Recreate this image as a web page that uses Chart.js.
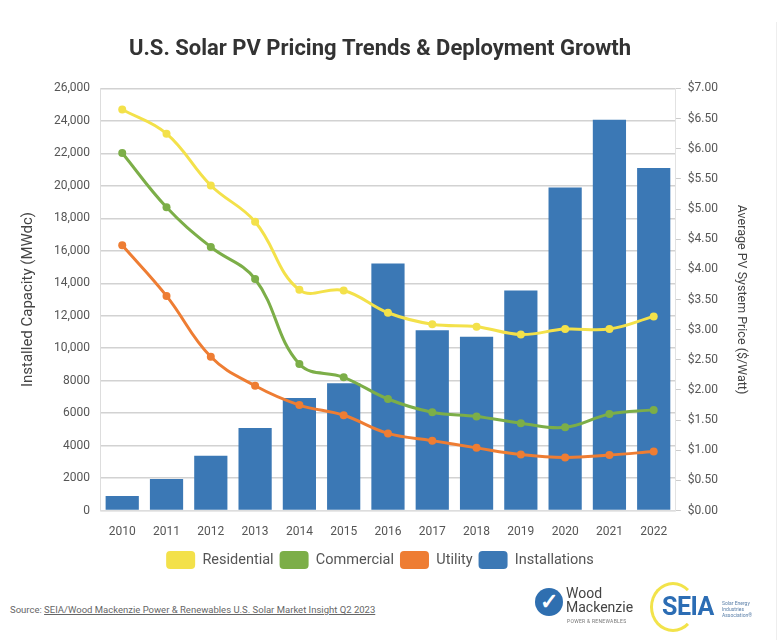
<!DOCTYPE html>
<html>
<head>
<meta charset="utf-8">
<script src="https://cdn.jsdelivr.net/npm/chart.js@4.4.0/dist/chart.umd.min.js"></script>
<style>
  html, body { margin:0; padding:0; background:#fff; }
  #wrap { position:relative; width:782px; height:640px; background:#fff; overflow:hidden; font-family:Roboto, "Liberation Sans", sans-serif; }
  #cbox { position:absolute; left:0; top:0; width:760px; height:585px; }
  #source { position:absolute; left:10px; top:604px; font-size:9.5px; color:#666; white-space:nowrap; }
  #source u { text-decoration:underline; }
  #edge { position:absolute; left:776px; top:22px; width:1px; height:618px; background:#eee; }
  .wm-icon { position:absolute; left:535px; top:588px; width:28px; height:28px; border-radius:50%; background:#2f6fb0; color:#fff; font-size:22px; line-height:28px; text-align:center; font-weight:bold; }
  .wm-t1 { position:absolute; left:566px; top:586px; font-size:14px; color:#444; line-height:14px; }
  .wm-t2 { position:absolute; left:566px; top:600px; font-size:14px; color:#444; line-height:14px; }
  .wm-t3 { position:absolute; left:567px; top:618px; font-size:5px; color:#777; letter-spacing:0.3px; }
  .seia-ring { position:absolute; left:650px; top:582px; width:46px; height:50px; border-radius:50%; border:3px solid #f2e34a; border-right-color:transparent; box-sizing:border-box; }
  .seia-t { position:absolute; left:662px; top:594px; font-size:25px; font-weight:bold; color:#2c6db4; line-height:26px; letter-spacing:-0.5px; }
  .seia-s { position:absolute; left:722px; top:600px; font-size:5px; color:#5a7fa8; line-height:6px; }
</style>
</head>
<body>
<div id="wrap">
  <div id="cbox"><canvas id="c"></canvas></div>
  <div id="edge"></div>
  <div id="source">Source: <u>SEIA/Wood Mackenzie Power &amp; Renewables U.S. Solar Market Insight Q2 2023</u></div>
  <div class="wm-icon">✓</div>
  <div class="wm-t1">Wood</div>
  <div class="wm-t2">Mackenzie</div>
  <div class="wm-t3">POWER &amp; RENEWABLES</div>
  <div class="seia-ring"></div>
  <div class="seia-t">SEIA</div>
  <div class="seia-s">Solar Energy<br>Industries<br>Association®</div>
</div>
<script>
const years = ["2010","2011","2012","2013","2014","2015","2016","2017","2018","2019","2020","2021","2022"];
const installations = [900, 1950, 3380, 5080, 6930, 7850, 15220, 11100, 10700, 13560, 19900, 24070, 21100];
const residential = [6.65, 6.25, 5.39, 4.79, 3.66, 3.65, 3.28, 3.09, 3.05, 2.92, 3.01, 3.01, 3.22];
const commercial  = [5.93, 5.03, 4.37, 3.84, 2.43, 2.21, 1.85, 1.63, 1.56, 1.45, 1.38, 1.60, 1.67];
const utility     = [4.40, 3.56, 2.55, 2.07, 1.75, 1.58, 1.28, 1.16, 1.04, 0.93, 0.88, 0.92, 0.98];
const capacityTicks = [0,2000,4000,6000,8000,10000,12000,14000,16000,18000,20000,22000,24000,26000];

const FONT = 'Roboto, "Liberation Sans", sans-serif';
const YEL = '#f3e14a', GRN = '#7cae48', ORG = '#ee7d33', BLU = '#3b78b5';

function lineDs(label, data, color) {
  return {
    type: 'line', label, data, yAxisID: 'y1',
    borderColor: color, backgroundColor: color,
    borderWidth: 3, tension: 0.4,
    pointRadius: 4, pointBackgroundColor: color, pointBorderColor: color, pointBorderWidth: 0
  };
}

new Chart(document.getElementById('c'), {
  data: {
    labels: years,
    datasets: [
      lineDs('Residential', residential, YEL),
      lineDs('Commercial', commercial, GRN),
      lineDs('Utility', utility, ORG),
      { type: 'bar', label: 'Installations', data: installations, yAxisID: 'y',
        backgroundColor: BLU, borderWidth: 0, categoryPercentage: 1.0, barPercentage: 0.75 }
    ]
  },
  options: {
    responsive: true, maintainAspectRatio: false, animation: false,
    layout: { padding: { left: 2, right: 2, top: 0, bottom: 6 } },
    plugins: {
      title: { display: true, text: 'U.S. Solar PV Pricing Trends & Deployment Growth',
        color: '#333', font: { family: FONT, size: 22, weight: 'bold' },
        padding: { top: 36, bottom: 26 } },
      legend: { position: 'bottom',
        labels: { color: '#555', font: { family: FONT, size: 14.5 }, boxWidth: 29, boxHeight: 18,
          padding: 6, useBorderRadius: true, borderRadius: 4,
          generateLabels: (chart) => Chart.defaults.plugins.legend.labels.generateLabels(chart).map(l => {
            l.lineWidth = 0; l.strokeStyle = 'transparent'; l.fillStyle = chart.data.datasets[l.datasetIndex].backgroundColor; return l; }) } },
      tooltip: { enabled: false }
    },
    scales: {
      x: {
        grid: { display: false },
        border: { color: '#ddd' },
        ticks: { color: '#555', font: { family: FONT, size: 12 }, padding: 6 }
      },
      y: {
        position: 'left', min: 0, max: 26000,
        afterBuildTicks: (s) => { s.ticks = capacityTicks.map(v => ({ value: v })); },
        grid: { color: '#d2d2d2', lineWidth: 1.5, drawTicks: false },
        border: { color: '#ddd', display: true },
        ticks: { color: '#555', font: { family: FONT, size: 12 }, padding: 10,
          callback: (v) => v >= 10000 ? v.toLocaleString('en-US') : String(v) },
        title: { display: true, text: 'Installed Capacity (MWdc)', color: '#444',
          font: { family: FONT, size: 15 }, padding: { top: 17, bottom: 7 } }
      },
      y1: {
        position: 'right', min: 0, max: 7,
        grid: { drawOnChartArea: false, color: '#ccc', tickLength: 5 },
        border: { color: '#e2e2e2' },
        ticks: { stepSize: 0.5, color: '#555', font: { family: FONT, size: 12 }, padding: 7,
          callback: (v) => '$' + Number(v).toFixed(2) },
        title: { display: true, text: 'Average PV System Price ($/Watt)', color: '#444',
          font: { family: FONT, size: 12.5 }, padding: { top: 9, bottom: 9 } }
      }
    }
  }
});
</script>
</body>
</html>
